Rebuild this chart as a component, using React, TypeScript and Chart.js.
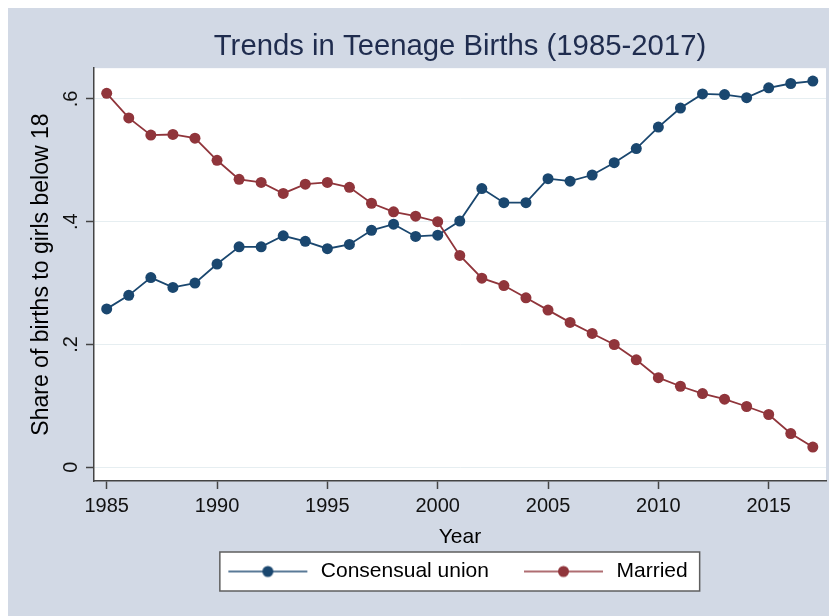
import React, { useEffect, useRef } from "react";
import { Chart, registerables } from "chart.js";

Chart.register(...registerables);

// ---------------- data ----------------
const years = [
  1985, 1986, 1987, 1988, 1989, 1990, 1991, 1992, 1993, 1994, 1995, 1996,
  1997, 1998, 1999, 2000, 2001, 2002, 2003, 2004, 2005, 2006, 2007, 2008,
  2009, 2010, 2011, 2012, 2013, 2014, 2015, 2016, 2017,
];
const consensualUnion = [
  0.258, 0.28, 0.309, 0.293, 0.3, 0.331, 0.359, 0.359, 0.377, 0.368, 0.356,
  0.363, 0.386, 0.396, 0.376, 0.378, 0.401, 0.454, 0.431, 0.431, 0.47, 0.466,
  0.476, 0.496, 0.519, 0.554, 0.585, 0.608, 0.607, 0.602, 0.618, 0.625, 0.629,
];
const married = [
  0.609, 0.569, 0.541, 0.542, 0.536, 0.5, 0.469, 0.464, 0.446, 0.461, 0.464,
  0.456, 0.43, 0.416, 0.409, 0.4, 0.345, 0.308, 0.296, 0.276, 0.256, 0.236,
  0.218, 0.2, 0.175, 0.146, 0.132, 0.12, 0.111, 0.099, 0.086, 0.055, 0.033,
];
const seriesNames = ["Consensual union", "Married"];
const xTickValues = [1985, 1990, 1995, 2000, 2005, 2010, 2015];
const yTickValues = [0, 0.2, 0.4, 0.6];
const yTickLabels = ["0", ".2", ".4", ".6"];
const titleText = "Trends in Teenage Births (1985-2017)";
const xTitle = "Year";
const yTitle = "Share of births to girls below 18";

// ---------------- styles ----------------
const BLUE = "#1a476f";
const RED = "#90353b";
const BG = "rgb(210,217,229)";
const FONT = "'Liberation Sans', Arial, sans-serif";
const W = 829;
const H = 608;

const LEG_LEAD = 25;
const LEG_LINE = 79;
const LEG_TRAIL = 3;
const LEG_PAD = 10;
const LEG_BOX = LEG_LEAD + LEG_LINE + LEG_TRAIL;

function makeIcon(color: string): HTMLCanvasElement {
  const c = document.createElement("canvas");
  c.width = LEG_BOX;
  c.height = 16;
  const ctx = c.getContext("2d")!;
  ctx.globalAlpha = 0.72;
  ctx.strokeStyle = color;
  ctx.lineWidth = 2;
  ctx.beginPath();
  ctx.moveTo(LEG_LEAD, 8);
  ctx.lineTo(LEG_LEAD + LEG_LINE, 8);
  ctx.stroke();
  ctx.globalAlpha = 1;
  ctx.fillStyle = color;
  ctx.beginPath();
  ctx.arc(LEG_LEAD + LEG_LINE / 2, 8, 5.5, 0, Math.PI * 2);
  ctx.fill();
  return c;
}

function legendRow(lg: any) {
  const lw = lg.lineWidths[0];
  const rowStart = (lg.left + LEG_PAD + lg.right - lw) / 2;
  return { visStart: rowStart + LEG_LEAD, visEnd: rowStart + lw - LEG_PAD };
}

const framePlugin = {
  id: "frame",
  afterLayout(chart: any) {
    const lg = chart.legend;
    if (!lg || !lg.lineWidths) return;
    const { visStart, visEnd } = legendRow(lg);
    const target = (chart.chartArea.left + chart.chartArea.right) / 2 - 2;
    const dx = target - (visStart + visEnd) / 2;
    lg.left += dx;
    lg.right += dx;
  },
  beforeDraw(chart: any) {
    const { ctx, chartArea: a, legend: lg } = chart;
    ctx.save();
    ctx.fillStyle = BG;
    ctx.fillRect(0, 0, chart.width, chart.height);
    ctx.fillStyle = "#ffffff";
    ctx.fillRect(a.left, a.top, a.right - a.left, a.bottom - a.top);
    if (lg && lg.lineWidths) {
      const { visStart, visEnd } = legendRow(lg);
      const x0 = visStart - 8.5;
      const x1 = visEnd + 12;
      const y0 = lg.top + 1;
      const y1 = lg.bottom - 1;
      ctx.fillStyle = "#ffffff";
      ctx.fillRect(x0, y0, x1 - x0, y1 - y0);
      ctx.strokeStyle = "#5f5f5f";
      ctx.lineWidth = 1.5;
      ctx.strokeRect(x0, y0, x1 - x0, y1 - y0);
    }
    ctx.restore();
  },
};

export default function App() {
  const ref = useRef<HTMLCanvasElement | null>(null);

  useEffect(() => {
    document.documentElement.style.overflow = "hidden";
    document.body.style.overflow = "hidden";
    const canvas = ref.current;
    if (!canvas) return;
    const icons = [makeIcon(BLUE), makeIcon(RED)];
    const colors = [BLUE, RED];

    const chart = new Chart(canvas, {
      type: "line",
      data: {
        datasets: [
          {
            label: seriesNames[0],
            data: years.map((yr, i) => ({ x: yr, y: consensualUnion[i] })),
            borderColor: BLUE,
            backgroundColor: BLUE,
            borderWidth: 1.8,
            pointRadius: 5.5,
            pointBackgroundColor: BLUE,
            pointBorderColor: BLUE,
            pointBorderWidth: 0,
            tension: 0,
            order: 1,
          },
          {
            label: seriesNames[1],
            data: years.map((yr, i) => ({ x: yr, y: married[i] })),
            borderColor: RED,
            backgroundColor: RED,
            borderWidth: 1.8,
            pointRadius: 5.5,
            pointBackgroundColor: RED,
            pointBorderColor: RED,
            pointBorderWidth: 0,
            tension: 0,
            order: 0,
          },
        ],
      },
      options: {
        responsive: false,
        animation: false,
        events: [],
        layout: { padding: { top: 0, left: 0, right: 11, bottom: 24 } },
        scales: {
          x: {
            type: "linear",
            min: 1984.4245,
            max: 2017.597,
            afterBuildTicks: (s: any) => {
              s.ticks = xTickValues.map((v) => ({ value: v }));
            },
            afterFit: (s: any) => {
              s.height = 70;
            },
            ticks: {
              callback: (v: any) => String(v),
              font: { family: FONT, size: 20 },
              color: "#111111",
              padding: 5.4,
              maxRotation: 0,
              autoSkip: false,
            },
            grid: {
              drawOnChartArea: false,
              drawTicks: true,
              tickLength: 8,
              tickColor: "#444444",
              tickWidth: 1.5,
            },
            border: { display: true, color: "#444444", width: 1.5 },
            title: {
              display: true,
              text: xTitle,
              font: { family: FONT, size: 21 },
              color: "#000000",
              padding: { top: 0, bottom: 0.7 },
            },
          },
          y: {
            type: "linear",
            min: -0.0223,
            max: 0.65,
            afterBuildTicks: (s: any) => {
              s.ticks = yTickValues.map((v) => ({ value: v }));
            },
            afterFit: (s: any) => {
              s.width = 86;
            },
            ticks: {
              callback: (v: any) => {
                const i = yTickValues.findIndex((t) => Math.abs(t - v) < 1e-9);
                return i >= 0 ? yTickLabels[i] : "";
              },
              minRotation: 90,
              maxRotation: 90,
              crossAlign: "center",
              padding: 6.25,
              font: { family: FONT, size: 20 },
              color: "#111111",
              autoSkip: false,
            },
            grid: {
              color: "#e6eef1",
              lineWidth: 1,
              drawTicks: true,
              tickLength: 8,
              tickColor: "#444444",
              tickWidth: 1.5,
            },
            border: { display: true, color: "#444444", width: 1.5 },
            title: {
              display: true,
              text: yTitle,
              font: { family: FONT, size: 23 },
              color: "#000000",
              padding: { top: 19.5, bottom: 0 },
            },
          },
        },
        plugins: {
          tooltip: { enabled: false },
          title: {
            display: true,
            text: titleText,
            color: "#1f2c4e",
            font: { family: FONT, size: 29.3, weight: "normal" },
            padding: { top: 21.4, bottom: 3.6 },
            fullSize: false,
          },
          legend: {
            display: true,
            position: "bottom",
            labels: {
              usePointStyle: true,
              pointStyleWidth: LEG_BOX,
              padding: LEG_PAD,
              color: "#000000",
              font: { family: FONT, size: 21 },
              generateLabels: () =>
                seriesNames.map((name, i) => ({
                  text: name,
                  pointStyle: icons[i],
                  fillStyle: colors[i],
                  strokeStyle: colors[i],
                  lineWidth: 0,
                  hidden: false,
                  datasetIndex: i,
                  fontColor: "#000000",
                })),
            },
          },
        },
      } as any,
      plugins: [framePlugin as any],
    });

    return () => {
      chart.destroy();
    };
  }, []);

  return (
    <canvas
      ref={ref}
      width={W}
      height={H}
      style={{ display: "block", width: W + "px", height: H + "px" }}
    />
  );
}
